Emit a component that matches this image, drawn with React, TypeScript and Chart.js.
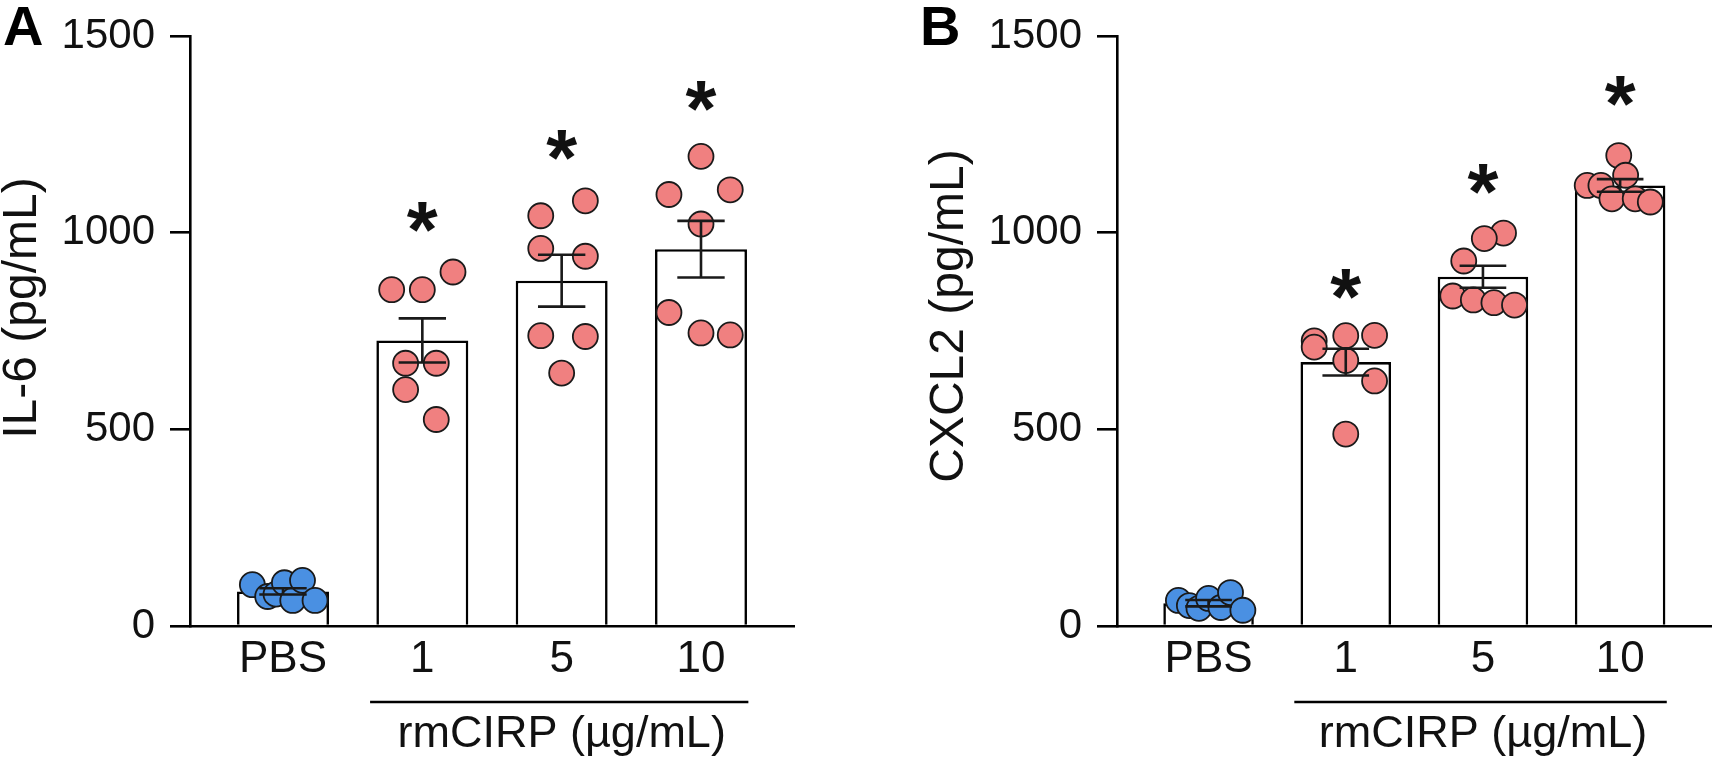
import React, { useEffect, useRef } from "react";
import { Chart, registerables } from "chart.js";

Chart.register(...registerables);

// ---------- data ----------
const groups = ["PBS", "1", "5", "10"];
const yTickValues = [0, 500, 1000, 1500];

// Panel A: IL-6
const il6Mean = [88, 726, 878, 958];
const il6Sem = [8, 56, 66, 72];
const il6Star = [null, 1041, 1224, 1348];
const il6Values = [
  [105, 75, 81, 110, 65, 116, 65],
  [855, 668, 601, 855, 668, 525, 900],
  [1043, 960, 738, 643, 1081, 940, 736],
  [1097, 797, 1194, 1022, 745, 1109, 740],
];
const il6Jitter = [
  [-0.22, -0.11, -0.05, 0.01, 0.07, 0.14, 0.23],
  [-0.22, -0.12, -0.12, 0, 0.1, 0.1, 0.22],
  [-0.15, -0.15, -0.15, 0, 0.17, 0.17, 0.17],
  [-0.23, -0.23, 0, 0, 0, 0.21, 0.21],
];

// Panel B: CXCL2
const cxcl2Mean = [58, 671, 888, 1120];
const cxcl2Sem = [8, 34, 28, 16];
const cxcl2Star = [null, 870, 1136, 1360];
const cxcl2Values = [
  [65, 52, 45, 70, 47, 85, 40],
  [725, 709, 738, 675, 488, 739, 623],
  [999, 985, 928, 839, 829, 822, 816],
  [1196, 1146, 1120, 1120, 1086, 1086, 1078],
];
const cxcl2Jitter = [
  [-0.22, -0.14, -0.07, 0, 0.09, 0.16, 0.25],
  [-0.23, -0.23, 0, 0, 0, 0.21, 0.21],
  [0.15, 0.01, -0.14, -0.22, -0.07, 0.08, 0.23],
  [-0.01, 0.04, -0.24, -0.14, -0.06, 0.11, 0.22],
];

// ---------- style ----------
const FONT = "'Liberation Sans', Arial, Helvetica, sans-serif";
const INK = "#111111";
const X_MIN = -0.6675;
const X_MAX = 3.6675;
const CAP_HALF = 0.17;
const BRACKET_FROM = 0.625;
const BRACKET_TO = 3.34;
const LINE_W = 2.6;

type PanelProps = {
  letter: string;
  yTitle: string;
  means: number[];
  sems: number[];
  stars: (number | null)[];
  values: number[][];
  jitter: number[][];
  width: number;
  axisWidth: number;
  padRight: number;
  titleX: number;
  titleY: number;
};

function makeOverlay(p: PanelProps) {
  return {
    id: "overlay",
    afterDatasetsDraw(chart: any) {
      const { ctx } = chart;
      const x = chart.scales.x;
      const y = chart.scales.y;
      ctx.save();
      // error bars
      ctx.strokeStyle = "#1a1a1a";
      ctx.lineWidth = LINE_W;
      p.means.forEach((m, i) => {
        const cx = x.getPixelForValue(i);
        const half = x.getPixelForValue(i + CAP_HALF) - cx;
        const yt = y.getPixelForValue(m + p.sems[i]);
        const yb = y.getPixelForValue(m - p.sems[i]);
        ctx.beginPath();
        ctx.moveTo(cx, yt);
        ctx.lineTo(cx, yb);
        ctx.moveTo(cx - half, yt);
        ctx.lineTo(cx + half, yt);
        ctx.moveTo(cx - half, yb);
        ctx.lineTo(cx + half, yb);
        ctx.stroke();
      });
      // significance stars
      ctx.fillStyle = INK;
      ctx.textAlign = "left";
      ctx.textBaseline = "alphabetic";
      ctx.font = `bold 100px ${FONT}`;
      const probe = ctx.measureText("*");
      const probeW = probe.actualBoundingBoxRight + probe.actualBoundingBoxLeft;
      const size = probeW > 0 ? (100 * 31) / probeW : 80;
      ctx.font = `bold ${size}px ${FONT}`;
      const mt = ctx.measureText("*");
      p.stars.forEach((s, i) => {
        if (s == null) return;
        const cx = x.getPixelForValue(i);
        const cy = y.getPixelForValue(s);
        const tx = cx - (mt.actualBoundingBoxRight - mt.actualBoundingBoxLeft) / 2;
        const ty = cy + (mt.actualBoundingBoxAscent - mt.actualBoundingBoxDescent) / 2;
        ctx.fillText("*", tx, ty);
      });
      ctx.restore();
    },
    afterDraw(chart: any) {
      const { ctx, chartArea } = chart;
      const x = chart.scales.x;
      ctx.save();
      // y-axis title
      ctx.fillStyle = INK;
      ctx.font = `48px ${FONT}`;
      ctx.textAlign = "center";
      ctx.textBaseline = "middle";
      ctx.save();
      ctx.translate(p.titleX, p.titleY);
      ctx.rotate(-Math.PI / 2);
      ctx.fillText(p.yTitle, 0, 0);
      ctx.restore();
      // bracket under the rmCIRP groups
      const by = chartArea.bottom + 76;
      ctx.strokeStyle = "#000";
      ctx.lineWidth = LINE_W;
      ctx.beginPath();
      ctx.moveTo(x.getPixelForValue(BRACKET_FROM), by);
      ctx.lineTo(x.getPixelForValue(BRACKET_TO), by);
      ctx.stroke();
      ctx.font = `45px ${FONT}`;
      ctx.textAlign = "center";
      ctx.textBaseline = "alphabetic";
      ctx.fillText("rmCIRP (µg/mL)", x.getPixelForValue(2), chartArea.bottom + 121);
      // panel letter
      ctx.font = `bold 56px ${FONT}`;
      ctx.textAlign = "left";
      ctx.fillStyle = "#000";
      ctx.fillText(p.letter, 3, 45);
      ctx.restore();
    },
  };
}

function Panel(p: PanelProps) {
  const ref = useRef<HTMLCanvasElement | null>(null);
  useEffect(() => {
    if (!ref.current) return;
    const pts = (pred: (i: number) => boolean) =>
      p.values.flatMap((vals, i) =>
        pred(i) ? vals.map((v, k) => ({ x: i + p.jitter[i][k], y: v })) : []
      );
    const chart = new Chart(ref.current, {
      type: "bar",
      data: {
        datasets: [
          {
            type: "scatter",
            label: "PBS points",
            data: pts((i) => i === 0),
            backgroundColor: "#4a90e2",
            borderColor: "#1a1a1a",
            borderWidth: 1.8,
            pointRadius: 12.5,
            order: 1,
          } as any,
          {
            type: "scatter",
            label: "rmCIRP points",
            data: pts((i) => i > 0),
            backgroundColor: "#f08080",
            borderColor: "#1a1a1a",
            borderWidth: 1.8,
            pointRadius: 12.5,
            order: 1,
          } as any,
          {
            type: "bar",
            label: "mean",
            data: p.means.map((m, i) => ({ x: i, y: m })),
            backgroundColor: "#ffffff",
            borderColor: "#000000",
            borderWidth: LINE_W,
            borderSkipped: "start",
            barPercentage: 0.66,
            categoryPercentage: 1,
            order: 2,
          } as any,
        ],
      },
      options: {
        animation: false,
        responsive: true,
        maintainAspectRatio: false,
        layout: { padding: { left: 0, top: 24, right: p.padRight, bottom: 0 } },
        plugins: {
          legend: { display: false },
          tooltip: { enabled: false },
        },
        scales: {
          x: {
            type: "linear",
            min: X_MIN,
            max: X_MAX,
            offset: false,
            afterBuildTicks: (scale: any) => {
              scale.ticks = groups.map((_, i) => ({ value: i }));
            },
            afterFit: (scale: any) => {
              scale.height = 135;
            },
            grid: { display: true, drawOnChartArea: false, drawTicks: false },
            border: { display: true, color: "#000", width: LINE_W },
            ticks: {
              autoSkip: false,
              maxRotation: 0,
              padding: 7,
              color: INK,
              font: { family: FONT, size: 44 },
              callback: (v: any) => groups[Math.round(Number(v))] ?? "",
            },
          },
          y: {
            type: "linear",
            min: 0,
            max: 1500,
            afterBuildTicks: (scale: any) => {
              scale.ticks = yTickValues.map((v) => ({ value: v }));
            },
            afterFit: (scale: any) => {
              scale.width = p.axisWidth;
            },
            grid: {
              display: true,
              drawOnChartArea: false,
              drawTicks: true,
              tickLength: 20,
              tickColor: "#000",
              lineWidth: LINE_W,
            },
            border: { display: true, color: "#000", width: LINE_W },
            ticks: {
              padding: 15,
              color: INK,
              font: { family: FONT, size: 42, lineHeight: 1 },
              callback: (v: any) => String(v),
            },
            title: { display: false },
          },
        },
      } as any,
      plugins: [makeOverlay(p) as any],
    });
    return () => chart.destroy();
  }, []);
  return (
    <div style={{ position: "relative", width: p.width, height: 761 }}>
      <canvas ref={ref} />
    </div>
  );
}

export default function App() {
  return (
    <div
      style={{
        position: "absolute",
        left: 0,
        top: 0,
        width: 1726,
        height: 761,
        background: "#ffffff",
        overflow: "hidden",
      }}
    >
      <div style={{ position: "absolute", left: 0, top: 0 }}>
        <Panel
          letter="A"
          yTitle="IL-6 (pg/mL)"
          means={il6Mean}
          sems={il6Sem}
          stars={il6Star}
          values={il6Values}
          jitter={il6Jitter}
          width={917}
          axisWidth={190}
          padRight={123}
          titleX={23}
          titleY={308}
        />
      </div>
      <div style={{ position: "absolute", left: 917, top: 0 }}>
        <Panel
          letter="B"
          yTitle="CXCL2 (pg/mL)"
          means={cxcl2Mean}
          sems={cxcl2Sem}
          stars={cxcl2Star}
          values={cxcl2Values}
          jitter={cxcl2Jitter}
          width={809}
          axisWidth={200}
          padRight={5}
          titleX={33}
          titleY={316}
        />
      </div>
    </div>
  );
}
